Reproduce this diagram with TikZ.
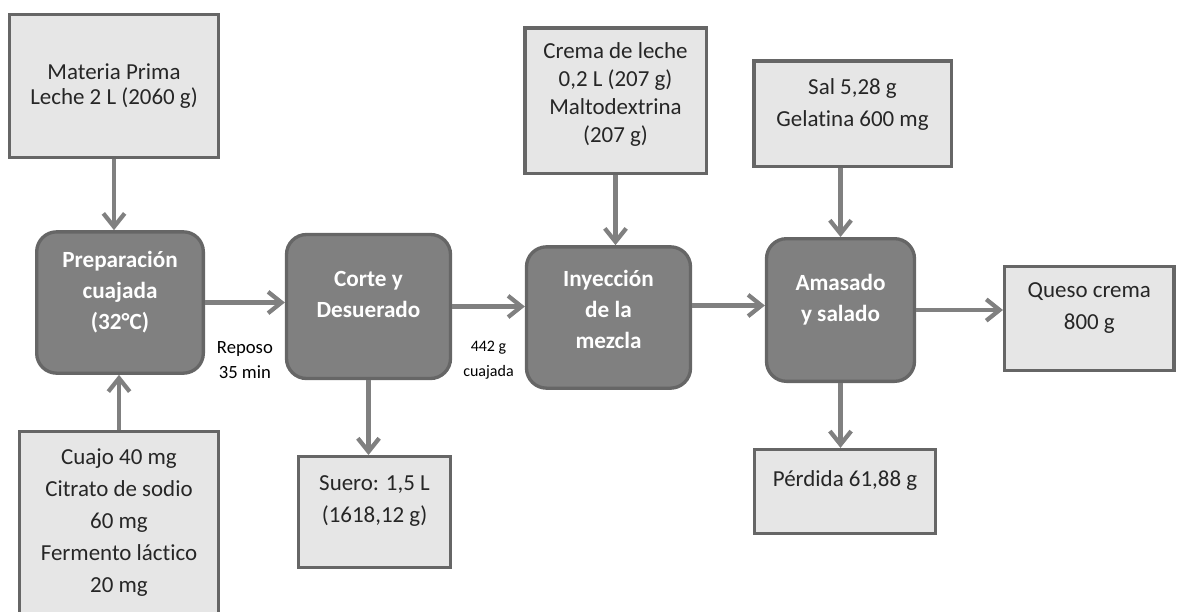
\documentclass[tikz,border=0pt]{standalone}
\usepackage{fontspec}
\setmainfont{Carlito}[Ligatures=NoCommon]
\usetikzlibrary{arrows.meta}
\definecolor{boxFill}{HTML}{E6E6E6}
\definecolor{boxLine}{HTML}{666666}
\definecolor{stepFill}{HTML}{808080}
\definecolor{stepLine}{HTML}{666666}
\definecolor{flowLine}{HTML}{808080}
\definecolor{textDark}{HTML}{262626}

\begin{document}
\begin{tikzpicture}[x=0.75pt,y=-0.75pt]
		\useasboundingbox (0,0) rectangle (1177,611);
		\begin{scope}
            [
                styleIn/.style 2 args={
					minimum width=#1, minimum height=#2, draw=boxLine, fill=boxFill,
					line width=2.5pt, text=textDark, align=center,
					font=\fontsize{17.2}{24}\selectfont
					},
				styleStep/.style 2 args={
					minimum width=#1, minimum height=#2, draw=stepLine, fill=stepFill,
					line width=2.5pt, rounded corners=15pt, text=white, align=center,
					font=\bfseries\fontsize{17.4}{23.5}\selectfont, text depth=18pt
					},
            ]
			\node(materia)[styleIn={156.5pt}{107pt}, font=\fontsize{17.2}{19}\selectfont] at (114,86) {Materia Prima\\Leche 2 L (2060 g)};
			\node(cuajo)[styleIn={149pt}{137pt}] at (119,523) {Cuajo 40 mg\\Citrato de sodio\\60 mg\\Fermento láctico\\20 mg};
			\node(prep)[styleStep={125pt}{106pt}] at (120,302.5) {Preparación\\cuajada\\(32°C)};

			\node(corte)[styleStep={123pt}{108pt}] at (368.5,306.5) {Corte y\\Desuerado};
			\node(suero)[styleIn={114pt}{83pt}, text depth=20pt] at (374.5,512) {Suero: 1,5 L\\(1618,12 g)};

			\node(crema)[styleIn={136pt}{109pt}, font=\fontsize{17.2}{21}\selectfont, text depth=12pt] at (615.5,100.5) {Crema de leche\\0,2 L (207 g)\\Maltodextrina\\(207 g)};
			\node(iny)[styleStep={123pt}{106pt}, text depth=12pt] at (608.5,317.5) {Inyección\\de la\\mezcla};

			\node(sal)[styleIn={148pt}{79pt}, text depth=17pt] at (852.5,113.5) {Sal 5,28 g\\Gelatina 600 mg};
			\node(amasado)[styleStep={111pt}{107pt}] at (840.5,310) {Amasado\\y salado};
			\node(perdida)[styleIn={135.5pt}{63pt}, text depth=20pt] at (845,491.5) {Pérdida 61,88 g};

			\node(queso)[styleIn={127pt}{78pt}, text depth=19pt] at (1089.3,318.5) {Queso crema\\800 g};
		\end{scope}
		\begin{scope}
            [line width=3.2pt, draw=flowLine, -{Straight Barb[length=10pt,width=16pt]},
             styleNote/.style={align=center, text=black, line width=0pt}]
            \path 
			(materia.south) edge        (materia.south |- prep.north)
			(cuajo.north) edge          (cuajo.north |- prep.south)
			(prep.east) edge            node[styleNote, font=\fontsize{14}{18.75}\selectfont, yshift=-43.5pt]{Reposo\\35 min} (prep.east -| corte.west)

			(corte.east) edge           node[styleNote, font=\fontsize{12}{18.75}\selectfont, yshift=-40pt]{442 g\\cuajada} (corte.east -| iny.west)
			(corte.south) edge          (corte.south |- suero.north)

			(crema.south) edge          (crema.south |- iny.north)
			([yshift=9pt]iny.east) edge ([yshift=9pt]iny.east -| amasado.west)

			(amasado.north |- sal.south) edge (amasado.north)
			(amasado.south) edge        (amasado.south |- perdida.north)
			(amasado.east) edge         (amasado.east -| queso.west);
		\end{scope}
    \end{tikzpicture}
\end{document}
